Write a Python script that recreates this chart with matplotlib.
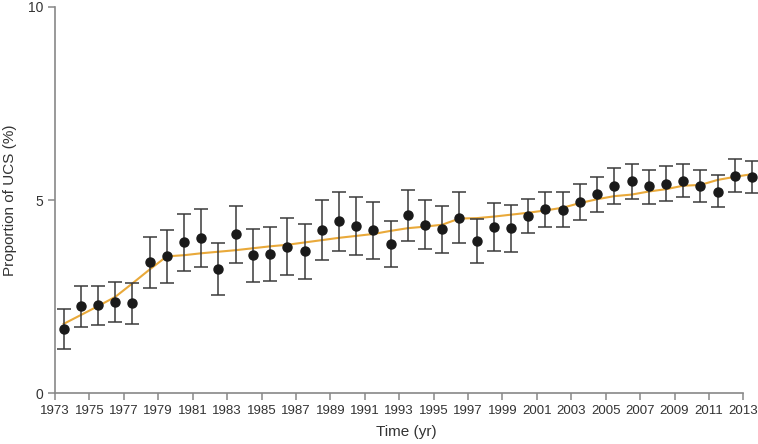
import numpy as np
import matplotlib
matplotlib.use("Agg")
import matplotlib.pyplot as plt

plt.rcParams['font.family'] = ['Liberation Sans', 'DejaVu Sans']

# yearly proportion of UCS (%) with 95% CI and fitted trend
years = np.arange(1973, 2014) + 0.5
prop = [1.65, 2.25, 2.27, 2.36, 2.32, 3.39, 3.54, 3.90, 4.02, 3.22,
        4.11, 3.57, 3.59, 3.79, 3.67, 4.21, 4.46, 4.33, 4.21, 3.86,
        4.60, 4.36, 4.24, 4.54, 3.94, 4.31, 4.27, 4.59, 4.76, 4.75,
        4.96, 5.16, 5.36, 5.48, 5.35, 5.42, 5.49, 5.37, 5.22, 5.62,
        5.60]
upper = [2.18, 2.78, 2.78, 2.88, 2.86, 4.04, 4.23, 4.64, 4.76, 3.89,
         4.85, 4.26, 4.30, 4.53, 4.38, 4.99, 5.22, 5.08, 4.94, 4.46,
         5.26, 5.01, 4.84, 5.20, 4.51, 4.92, 4.88, 5.03, 5.21, 5.21,
         5.42, 5.60, 5.82, 5.94, 5.79, 5.87, 5.92, 5.79, 5.64, 6.05,
         6.01]
lower = [1.13, 1.70, 1.76, 1.83, 1.78, 2.71, 2.84, 3.16, 3.27, 2.54,
         3.37, 2.87, 2.89, 3.05, 2.95, 3.45, 3.68, 3.58, 3.47, 3.26,
         3.95, 3.73, 3.62, 3.89, 3.38, 3.69, 3.64, 4.15, 4.31, 4.29,
         4.48, 4.70, 4.90, 5.03, 4.90, 4.97, 5.07, 4.96, 4.81, 5.22,
         5.18]
trend = [1.79, 2.02, 2.25, 2.49, 2.84, 3.20, 3.54, 3.57, 3.62, 3.66,
         3.70, 3.75, 3.80, 3.84, 3.90, 3.96, 4.02, 4.07, 4.12, 4.20,
         4.27, 4.31, 4.36, 4.52, 4.53, 4.57, 4.62, 4.67, 4.73, 4.80,
         4.92, 5.02, 5.10, 5.14, 5.22, 5.28, 5.37, 5.39, 5.52, 5.60,
         5.67]

prop = np.array(prop)
yerr = [prop - np.array(lower), np.array(upper) - prop]

fig = plt.figure(figsize=(7.58, 4.44), dpi=100)
ax = fig.add_axes([55/758, 51/444, 703/758, 386/444])

ax.plot(years, trend, color='#E9A93A', lw=1.5, zorder=2)
ax.errorbar(years, prop, yerr=yerr, fmt='none', ecolor='#3a3a3a',
            elinewidth=1.1, capsize=5, capthick=1.1, zorder=3)
ax.plot(years, prop, 'o', color='#1a1a1a', ms=6.5, zorder=4)

ax.set_xlim(1973, 2013.85)
ax.set_ylim(0, 10)
ax.set_xticks(np.arange(1973, 2014, 2))
ax.set_yticks([0, 5, 10])
ax.spines['top'].set_visible(False)
ax.spines['right'].set_visible(False)
ax.spines['bottom'].set_bounds(1973, 2013)
for s in ['left', 'bottom']:
    ax.spines[s].set_color('#888888')
    ax.spines[s].set_linewidth(1.2)
ax.tick_params(direction='out', length=5, width=1.1, color='#888888',
               labelcolor='#333333', labelsize=9.5)
ax.tick_params(axis='y', labelsize=10)

ax.set_xlabel('Time (yr)', fontsize=11, color='#333333', labelpad=6)
ax.set_ylabel('Proportion of UCS (%)', fontsize=11, color='#333333', labelpad=8)

fig.savefig('out.png', dpi=100)
